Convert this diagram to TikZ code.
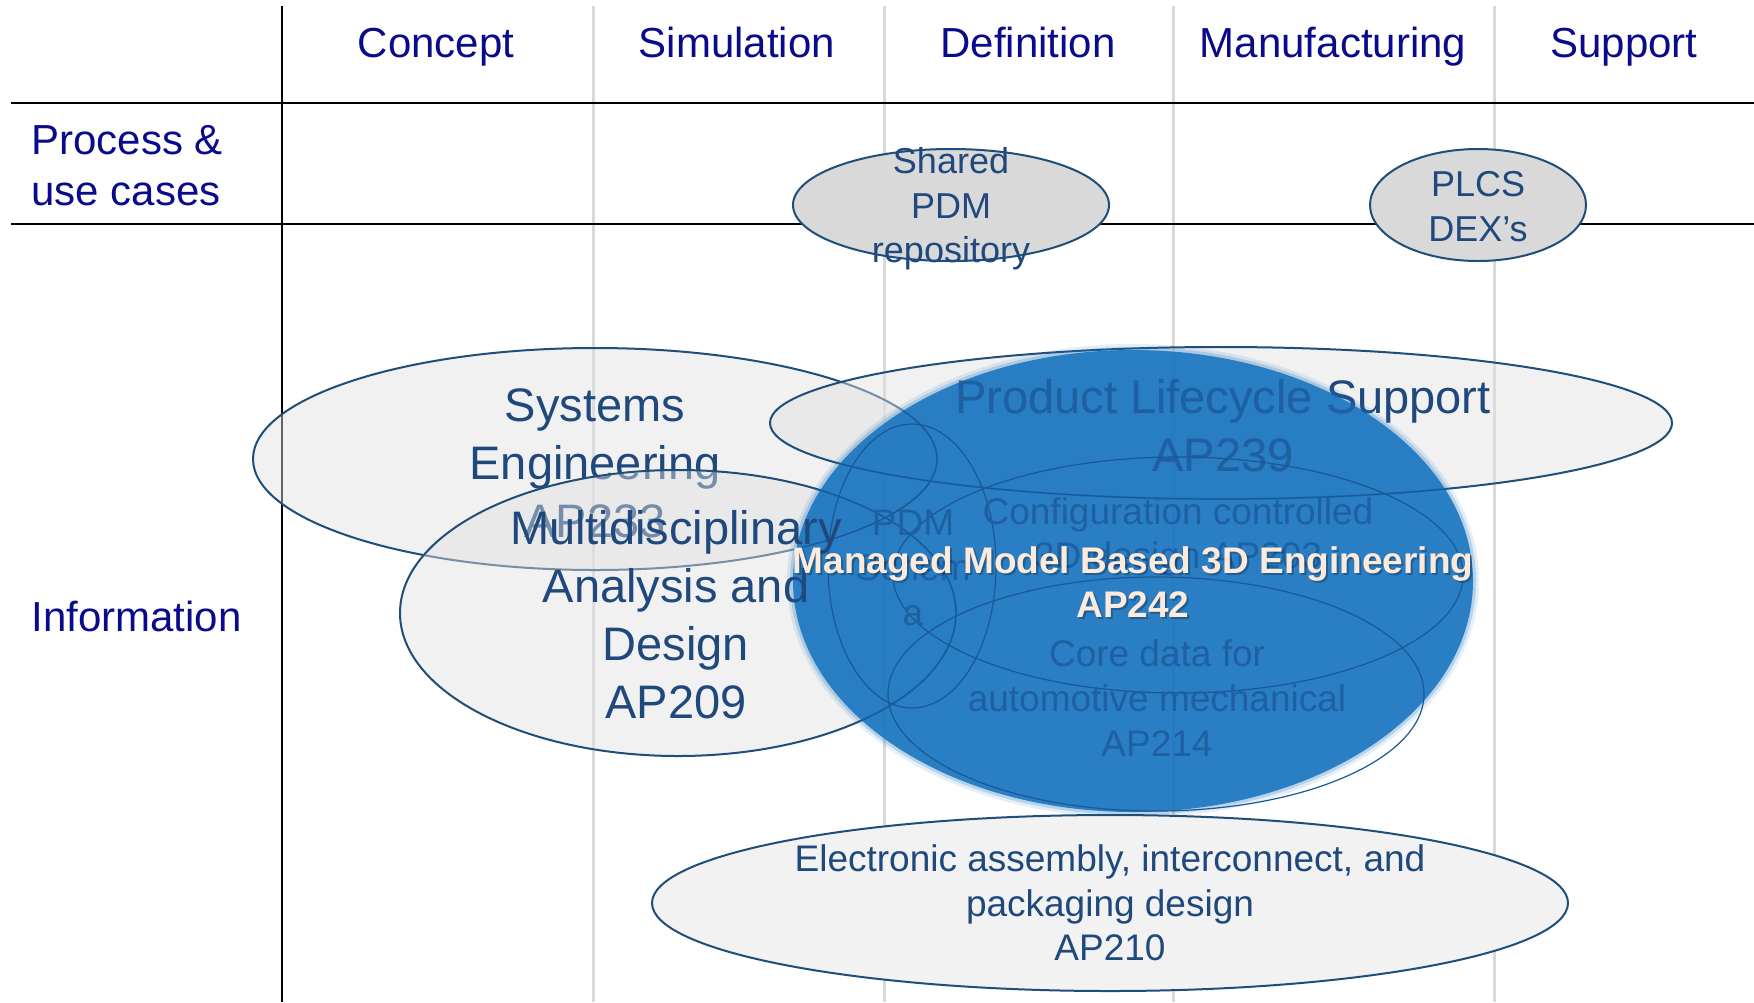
\documentclass[tikz,border=0pt]{standalone}
\usepackage{fontspec}
\setmainfont{Liberation Sans}
\usetikzlibrary{shapes.geometric}
\definecolor{hdr}{RGB}{10,10,140}
\definecolor{etxt}{RGB}{31,73,125}
\definecolor{eline}{RGB}{31,78,121}
\definecolor{gridgray}{RGB}{217,217,217}
\definecolor{lightfill}{RGB}{224,224,224}
\definecolor{pdmfill}{RGB}{217,217,217}
\definecolor{apfill}{RGB}{242,242,242}
\definecolor{bigblue}{RGB}{26,117,192}
\definecolor{innerline}{RGB}{26,88,150}
\definecolor{innertxt}{RGB}{30,96,162}
\definecolor{mtxt}{RGB}{253,234,218}
\begin{document}
\begin{tikzpicture}[x=0.5pt,y=-0.5pt,
  hdrtext/.style={text=hdr, font=\fontsize{21}{25.5}\selectfont, inner sep=0pt},
  bigtext/.style={text=etxt, font=\fontsize{23.5}{29}\selectfont, align=center, inner sep=0pt},
  smalltext/.style={text=etxt, font=\fontsize{18.5}{22.3}\selectfont, align=center, inner sep=0pt},
  innertext/.style={smalltext, text=innertxt},
  lightell/.style={ellipse, draw=eline, line width=1pt, fill=lightfill, fill opacity=0.45, inner sep=0pt},
  innerell/.style={ellipse, draw=innerline, line width=0.6pt, inner sep=0pt},
  solidell/.style={ellipse, draw=eline, line width=1pt, fill=#1, inner sep=0pt},
  gridline/.style={gridgray, line width=1.5pt},
  blackline/.style={black, line width=1.2pt},
  managed/.style={font=\bfseries\fontsize{18.5}{22}\selectfont, align=center, inner sep=0pt, text=mtxt}
]
\useasboundingbox (0,0) rectangle (1754,1002);
\fill[white] (0,0) rectangle (1754,1002);

% grid
\coordinate (g1t) at (593,6);   \coordinate (g1b) at (593,1002);
\coordinate (g2t) at (884,6);   \coordinate (g2b) at (884,1002);
\coordinate (g3t) at (1173,6);  \coordinate (g3b) at (1173,1002);
\coordinate (g4t) at (1494,6);  \coordinate (g4b) at (1494,1002);
\draw[gridline] (g1t) -- (g1b);
\draw[gridline] (g2t) -- (g2b);
\draw[gridline] (g3t) -- (g3b);
\draw[gridline] (g4t) -- (g4b);
\coordinate (vt) at (282,6); \coordinate (vb) at (282,1002);
\coordinate (h1l) at (11,103); \coordinate (h1r) at (1754,103);
\coordinate (h2l) at (11,224); \coordinate (h2r) at (1754,224);
\draw[blackline] (vt) -- (vb);
\draw[blackline] (h1l) -- (h1r);
\draw[blackline] (h2l) -- (h2r);

% headers
\node[hdrtext, anchor=base] (hc) at (436,57) {Concept};
\node[hdrtext, anchor=base] (hs) at (737,57) {Simulation};
\node[hdrtext, anchor=base] (hd) at (1028,57) {Definition};
\node[hdrtext, anchor=base] (hm) at (1333,57) {Manufacturing};
\node[hdrtext, anchor=base] (hsu) at (1624,57) {Support};
\node[hdrtext, align=left, anchor=west] (rp) at (31,166) {Process \&\\use cases};
\node[hdrtext, anchor=west] (ri) at (31,616) {Information};

% light ellipses
\node[lightell, minimum width=342pt, minimum height=111pt] (se) at (595,459) {};
\node[bigtext] (set) at (595,463) {Systems\\Engineering\\AP233};
\node[lightell, minimum width=451pt, minimum height=76pt] (pl) at (1221,423) {};
\node[bigtext] (plt) at (1223,426) {Product Lifecycle Support\\AP239};
\node[lightell, minimum width=278pt, minimum height=143pt] (md) at (678,613) {};

% big blue ellipse
\fill[bigblue, opacity=0.12] (1133,581) ellipse [x radius=173pt, y radius=118.5pt];
\fill[bigblue, opacity=0.22] (1133,581) ellipse [x radius=171.5pt, y radius=117pt];
\node[ellipse, fill=bigblue, fill opacity=0.9, inner sep=0pt, minimum width=340pt, minimum height=231pt] (mb) at (1133,581) {};

\begin{scope}
\clip (1133,581) ellipse [x radius=170pt, y radius=115.5pt];
\draw[innerline, line width=0.6pt] (595,459) ellipse [x radius=171pt, y radius=55.5pt];
\draw[innerline, line width=0.6pt] (1221,423) ellipse [x radius=225.5pt, y radius=38pt];
\draw[innerline, line width=0.6pt] (678,613) ellipse [x radius=139pt, y radius=71.5pt];
\node[bigtext, text=innertxt] (plt2) at (1223,426) {Product Lifecycle Support\\AP239};
\end{scope}

% inner ellipses
\node[innerell, minimum width=84pt, minimum height=142pt] (pdm) at (912,566) {};
\node[innerell, minimum width=285pt, minimum height=118pt] (cc) at (1178,575) {};
\node[innerell, minimum width=268pt, minimum height=117pt] (cd) at (1156,694) {};
\node[innertext] (pdmt) at (913,568) {PDM\\Schem\\a};
\node[innertext] (cct) at (1178,537) {Configuration controlled\\3D design AP203};
\node[innertext] (cdt) at (1157,698) {Core data for\\automotive mechanical\\AP214};

% AP209 text on top
\node[bigtext] (mdt) at (676,615) {Multidisciplinary\\Analysis and\\Design\\AP209};

% managed text
\node[managed, text=black, text opacity=0.25] (mts) at (1135,584) {Managed Model Based 3D Engineering\\AP242};
\node[managed] (mt) at (1133,582) {Managed Model Based 3D Engineering\\AP242};

% bottom and top ellipses
\node[solidell=apfill, minimum width=458pt, minimum height=88pt] (el) at (1110,903) {};
\node[smalltext] (elt) at (1110,903) {Electronic assembly, interconnect, and\\packaging design\\AP210};
\node[solidell=pdmfill, minimum width=158pt, minimum height=56pt] (sp) at (951,205) {};
\node[smalltext, font=\fontsize{18}{22.3}\selectfont] (spt) at (951,209) {Shared\\PDM\\repository};
\node[solidell=pdmfill, minimum width=108pt, minimum height=56pt] (pd) at (1478,205) {};
\node[smalltext, font=\fontsize{18}{22.5}\selectfont] (pdt) at (1478,207) {PLCS\\DEX’s};
\end{tikzpicture}
\end{document}
